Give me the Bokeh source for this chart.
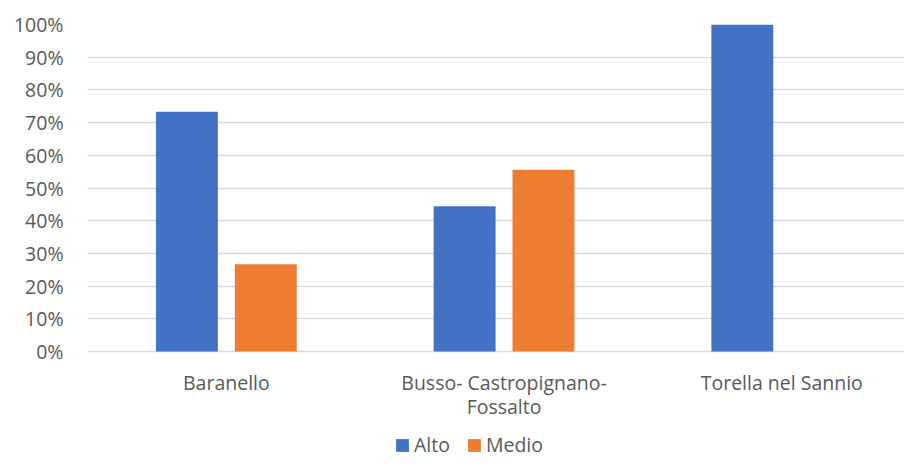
import numpy as np
from bokeh.plotting import figure
from bokeh.models import (ColumnDataSource, Range1d, FixedTicker, Legend, LegendItem)
from bokeh.core.properties import value
from bokeh.transform import dodge
from bokeh.embed import file_html
from bokeh.resources import INLINE

categories = ["Baranello", "Busso- Castropignano-\nFossalto", "Torella nel Sannio"]
alto = [0.733, 0.444, 1.0]
medio = [0.267, 0.556, 0.0]
y_ticks = [0.0, 0.1, 0.2, 0.3, 0.4, 0.5, 0.6, 0.7, 0.8, 0.9, 1.0]
y_tick_labels = ["0%", "10%", "20%", "30%", "40%", "50%", "60%", "70%", "80%", "90%", "100%"]

FONT = "Open Sans"
FS = "19.5px"
GREY = "#595959"

PX_PER_UNIT = 327.0          # height of the 0..100% band in pixels
BELOW_PX = 108.0             # room under the 0% line for labels and legend

src = ColumnDataSource(dict(x=list(range(len(categories))), alto=alto, medio=medio,
                            label=categories, y0=[0.0] * len(categories)))

p = figure(width=904, height=459, output_backend="svg", toolbar_location=None,
           x_range=Range1d(-0.5, 2.442), y_range=Range1d(-BELOW_PX / PX_PER_UNIT, 1),
           x_axis_location=None,
           min_border_left=87, min_border_right=0, min_border_top=24, min_border_bottom=0)
p.outline_line_color = None
p.background_fill_color = "white"
p.border_fill_color = "white"

r1 = p.vbar(x=dodge("x", -0.142, range=p.x_range), top="alto", width=0.223, source=src,
            fill_color="#4472C4", line_color=None)
r2 = p.vbar(x=dodge("x", 0.142, range=p.x_range), top="medio", width=0.223, source=src,
            fill_color="#ED7D31", line_color=None)

p.xgrid.visible = False
p.ygrid.grid_line_color = "#D9D9D9"
p.ygrid.grid_line_width = 1.5
p.ygrid.ticker = FixedTicker(ticks=y_ticks)

p.yaxis.ticker = FixedTicker(ticks=y_ticks)
p.yaxis.major_label_overrides = {t: l for t, l in zip(y_ticks, y_tick_labels)}
p.yaxis.axis_line_color = None
p.yaxis.major_tick_line_color = None
p.yaxis.minor_tick_line_color = None
p.yaxis.major_tick_out = 0
p.yaxis.major_label_standoff = 24
p.yaxis.major_label_text_font = FONT
p.yaxis.major_label_text_font_size = FS
p.yaxis.major_label_text_color = GREY

# category labels under the 0% line
p.text(x="x", y="y0", text="label", source=src, y_offset=17,
       text_align="center", text_baseline="top",
       text_font=value(FONT), text_font_size=value(FS), text_color=GREY,
       text_line_height=0.9)

legend = Legend(items=[LegendItem(label="Alto", renderers=[r1]),
                       LegendItem(label="Medio", renderers=[r2])],
                orientation="horizontal", location=(307, 1),
                glyph_width=16, glyph_height=16, label_standoff=4, spacing=16,
                label_text_font=FONT, label_text_font_size=FS, label_text_color=GREY,
                label_text_line_height=0.6, label_height=16,
                border_line_color=None, background_fill_alpha=0, margin=0, padding=0)
p.add_layout(legend, "center")

open("out.html", "w").write(file_html(p, INLINE))
